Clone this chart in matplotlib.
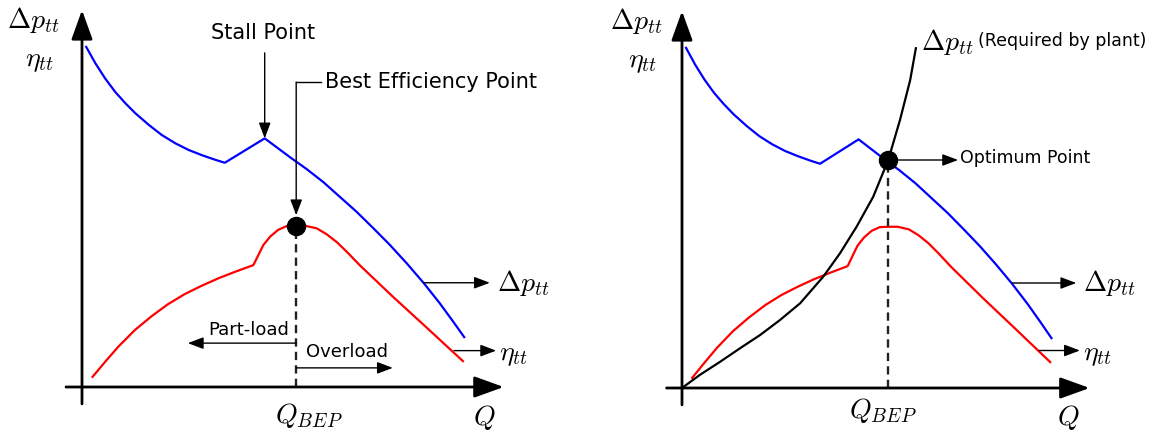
import matplotlib
matplotlib.use("Agg")
import matplotlib.pyplot as plt

plt.rcParams["mathtext.fontset"] = "cm"
plt.rcParams["font.family"] = ["DejaVu Sans"]

# Normalised flow rate Q and normalised pressure rise (pump curve)
dp_q = [0.010, 0.032, 0.055, 0.079, 0.103, 0.127, 0.159, 0.190, 0.222,
        0.254, 0.286, 0.317, 0.340, 0.435, 0.495, 0.535, 0.575, 0.614,
        0.654, 0.694, 0.733, 0.773, 0.813, 0.852, 0.884, 0.910]
dp_val = [0.907, 0.863, 0.823, 0.787, 0.757, 0.730, 0.699, 0.672, 0.650,
          0.632, 0.618, 0.606, 0.598, 0.663, 0.613, 0.581, 0.546, 0.507,
          0.467, 0.423, 0.379, 0.330, 0.278, 0.223, 0.174, 0.133]

# Efficiency curve
eta_q = [0.025, 0.055, 0.086, 0.126, 0.166, 0.205, 0.245, 0.285, 0.325,
         0.364, 0.408, 0.420, 0.432, 0.448, 0.467, 0.487, 0.510, 0.531,
         0.559, 0.583, 0.607, 0.631, 0.662, 0.740, 0.821, 0.876, 0.907]
eta_val = [0.027, 0.067, 0.107, 0.152, 0.189, 0.221, 0.248, 0.270, 0.290,
           0.307, 0.325, 0.352, 0.379, 0.401, 0.419, 0.429, 0.430, 0.430,
           0.423, 0.407, 0.386, 0.360, 0.324, 0.241, 0.158, 0.101, 0.069]

# System (plant) characteristic
plant_q = [0.0, 0.044, 0.094, 0.143, 0.192, 0.241, 0.291, 0.348, 0.389,
           0.430, 0.471, 0.508, 0.537, 0.562, 0.576]
plant_val = [0.0, 0.035, 0.070, 0.106, 0.141, 0.181, 0.226, 0.297, 0.359,
             0.430, 0.510, 0.608, 0.715, 0.821, 0.906]

stall_q, stall_dp = 0.435, 0.663
q_bep, eta_bep = 0.510, 0.430
q_opt, dp_opt = 0.508, 0.608

BLUE = "#0000ff"
RED = "#ff0000"
MATH = 20

fig = plt.figure(figsize=(11.51, 4.34), dpi=100)
W, H = 1151.0, 434.0


def make_axes(x0, y0, w, h):
    ax = fig.add_axes([x0 / W, (H - y0) / H, w / W, h / H])
    ax.set_xlim(0, 1)
    ax.set_ylim(0, 1)
    ax.axis("off")
    return ax


def big_arrow(ax, start, end):
    ax.annotate("", xy=end, xytext=start, annotation_clip=False,
                arrowprops=dict(arrowstyle="-|>,head_length=1.8,head_width=0.65",
                                lw=2.0, color="k", shrinkA=0, shrinkB=0,
                                mutation_scale=10))


def small_arrow(ax, start, end):
    ax.annotate("", xy=end, xytext=start, annotation_clip=False,
                arrowprops=dict(arrowstyle="-|>,head_length=0.95,head_width=0.36",
                                lw=1.0, color="k", shrinkA=0, shrinkB=0,
                                mutation_scale=10))


def draw_frame(ax, lbl_dx, lbl_q):
    big_arrow(ax, (-0.038, 0), (1.004, 0))
    big_arrow(ax, (0, -0.045), (0, 1.005))
    ax.text(lbl_dx, 0.978, r"$\Delta p_{tt}$", fontsize=MATH, ha="center", va="center")
    ax.text(lbl_dx + 0.016, 0.873, r"$\eta_{tt}$", fontsize=MATH, ha="center", va="center")
    ax.text(lbl_q, -0.08, r"$Q$", fontsize=MATH, ha="center", va="center")


def draw_curves(ax, dp_from, eta_from):
    ax.plot(dp_q, dp_val, color=BLUE, lw=1.6, clip_on=False)
    ax.plot(eta_q, eta_val, color=RED, lw=1.6, clip_on=False)
    small_arrow(ax, dp_from, (dp_from[0] + 0.158, dp_from[1]))
    ax.text(dp_from[0] + 0.174, dp_from[1], r"$\Delta p_{tt}$", fontsize=MATH,
            ha="left", va="center")
    small_arrow(ax, eta_from, (eta_from[0] + 0.1, eta_from[1]))
    ax.text(eta_from[0] + 0.108, eta_from[1] - 0.01, r"$\eta_{tt}$", fontsize=MATH,
            ha="left", va="center")


def dashed_drop(ax, q, v):
    ax.plot([q, q], [0, v], color="#222222", lw=1.7, ls=(0, (3.5, 2.2)), clip_on=False)
    ax.plot([q], [v], "o", color="k", ms=13, clip_on=False, zorder=5)


# ---- Left panel: pump characteristic ----
axL = make_axes(82, 387, 420, 375)
draw_frame(axL, -0.117, 0.957)
draw_curves(axL, (0.813, 0.278), (0.886, 0.097))
dashed_drop(axL, q_bep, eta_bep)

axL.text(stall_q - 0.005, 0.944, "Stall Point", fontsize=15, ha="center", va="center")
small_arrow(axL, (stall_q, 0.891), (stall_q, stall_dp))

axL.plot([0.569, q_bep], [0.813, 0.813], color="k", lw=1.0)
small_arrow(axL, (q_bep, 0.813), (q_bep, eta_bep + 0.028))
axL.text(0.579, 0.813, "Best Efficiency Point", fontsize=15, ha="left", va="center")

axL.text(0.398, 0.152, "Part-load", fontsize=13, ha="center", va="center")
small_arrow(axL, (q_bep, 0.117), (0.252, 0.117))
axL.text(0.631, 0.093, "Overload", fontsize=13, ha="center", va="center")
small_arrow(axL, (q_bep, 0.051), (0.740, 0.051))

axL.text(0.54, -0.075, r"$Q_{BEP}$", fontsize=MATH, ha="center", va="center")

# ---- Right panel: operating point with plant curve ----
axR = make_axes(682, 388, 406, 375)
draw_frame(axR, -0.113, 0.951)
draw_curves(axR, (0.813, 0.280), (0.880, 0.100))

axR.plot(plant_q, plant_val, color="k", lw=1.6, clip_on=False)
dashed_drop(axR, q_opt, dp_opt)

small_arrow(axR, (q_opt, dp_opt), (0.680, dp_opt))
axR.text(0.685, dp_opt + 0.005, "Optimum Point", fontsize=12.5, ha="left", va="center")

axR.text(0.589, 0.923, r"$\Delta p_{tt}$", fontsize=MATH, ha="left", va="center")
axR.text(0.729, 0.926, "(Required by plant)", fontsize=12.5, ha="left", va="center")

axR.text(0.495, -0.061, r"$Q_{BEP}$", fontsize=MATH, ha="center", va="center")

fig.savefig("out.png", dpi=100)
